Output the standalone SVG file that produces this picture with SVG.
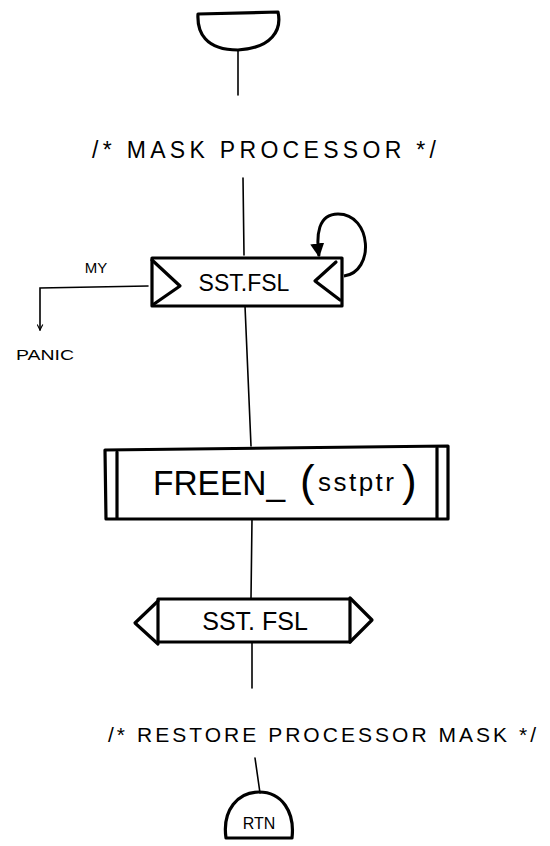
<svg xmlns="http://www.w3.org/2000/svg" width="550" height="846" viewBox="0 0 550 846">
<defs>
<style>
.sh{fill:none;stroke:#000;stroke-width:3.2;stroke-linejoin:round;stroke-linecap:round}
.ln{fill:none;stroke:#000;stroke-width:1.6;stroke-linecap:round}
.t{font-family:"Liberation Sans",Arial,sans-serif;fill:#000}
</style>
<marker id="ah" viewBox="0 0 10 10" refX="9" refY="5" markerWidth="7" markerHeight="7" orient="auto" markerUnits="userSpaceOnUse">
<path d="M1,1 L9,5 L1,9" fill="none" stroke="#000" stroke-width="1.6"/>
</marker>
<marker id="ahb" viewBox="0 0 10 10" refX="9" refY="5" markerWidth="14" markerHeight="14" orient="auto" markerUnits="userSpaceOnUse">
<path d="M0,0 L10,5 L0,10 Z" fill="#000"/>
</marker>
</defs>
<rect width="550" height="846" fill="#fff"/>
<g id="connectors">
<line class="ln" x1="238" y1="50" x2="238" y2="95"/>
<line class="ln" x1="243" y1="178" x2="244" y2="255"/>
<line class="ln" x1="245" y1="306" x2="251" y2="446"/>
<line class="ln" x1="252" y1="519" x2="251" y2="598"/>
<line class="ln" x1="252" y1="643" x2="252" y2="688"/>
<line class="ln" x1="255" y1="758" x2="260" y2="793"/>
<polyline class="ln" points="148,286 40,288 40,330" marker-end="url(#ah)"/>
<path d="M344,276 C375,272 372,214 338,214 C318,214 316,235 319,256" fill="none" stroke="#000" stroke-width="3" marker-end="url(#ahb)"/>
<text class="t" x="96" y="273" font-size="15" text-anchor="middle">MY</text>
<text class="t" x="16" y="360" font-size="15" textLength="58" lengthAdjust="spacingAndGlyphs">PANIC</text>
</g>
<g id="start">
<path class="sh" d="M198,14 L278,12 C282,30 272,48 238,50 C205,50 197,32 198,14 Z"/>
</g>
<g id="comment1">
<text class="t" x="92" y="158" font-size="23" textLength="344" lengthAdjust="spacing">/* MASK PROCESSOR */</text>
</g>
<g id="sstfsl1">
<path class="sh" d="M152,258 L342,258 L342,306 L152,306 Z"/>
<path class="sh" d="M152,260 L180,286 L154,304"/>
<path class="sh" d="M336,262 L315,281 L340,300"/>
<text class="t" x="244" y="291" font-size="23" text-anchor="middle">SST.FSL</text>
</g>
<g id="freen">
<path class="sh" d="M105,450 L448,446 L448,519 L106,519 Z"/>
<line class="sh" x1="117" y1="452" x2="117" y2="518"/>
<line class="sh" x1="437" y1="448" x2="437" y2="518"/>
<text class="t" x="153" y="495" font-size="35" textLength="132" lengthAdjust="spacingAndGlyphs">FREEN_</text>
<text class="t" x="300" y="496" font-size="44">(</text>
<text class="t" x="318" y="491" font-size="26" textLength="76" lengthAdjust="spacing">sstptr</text>
<text class="t" x="402" y="496" font-size="44">)</text>
</g>
<g id="sstfsl2">
<path class="sh" d="M158,599 L350,599 L350,642 L158,642 Z"/>
<path class="sh" d="M158,601 L135,623 L158,644"/>
<path class="sh" d="M350,598 L372,620 L350,642"/>
<text class="t" x="255" y="630" font-size="25" text-anchor="middle">SST. FSL</text>
</g>
<g id="comment2">
<text class="t" x="108" y="742" font-size="21" textLength="428" lengthAdjust="spacing">/* RESTORE PROCESSOR MASK */</text>
</g>
<g id="rtn">
<path class="sh" d="M226,838 C222,810 238,792 259,792 C282,792 295,812 292,838 Z"/>
<text class="t" x="259" y="829" font-size="16" text-anchor="middle">RTN</text>
</g>
</svg>
